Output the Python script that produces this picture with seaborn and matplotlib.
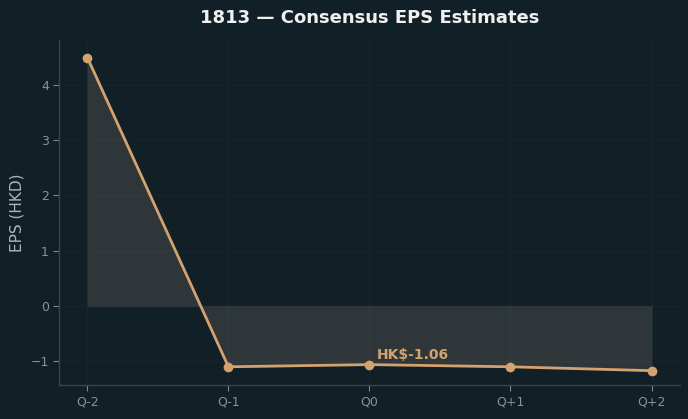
import matplotlib
matplotlib.use("Agg")
import matplotlib.pyplot as plt
import seaborn as sns
import pandas as pd

quarters = ["Q-2", "Q-1", "Q0", "Q+1", "Q+2"]
eps = [4.49, -1.10, -1.06, -1.10, -1.17]

bg = "#111f26"
line_c = "#d4a26e"
sns.set_theme(style="dark")
plt.rcParams['font.family'] = ['DejaVu Sans']

df = pd.DataFrame({"q": range(len(quarters)), "eps": eps})

fig = plt.figure(figsize=(6.88, 4.19), dpi=100, facecolor=bg)
ax = fig.add_axes([0.086, 0.081, 0.902, 0.824])
ax.set_facecolor(bg)

ax.fill_between(df["q"], 0, df["eps"], color="#8c8378", alpha=0.24, linewidth=1, edgecolor="#4a4c4a", zorder=1)
sns.lineplot(data=df, x="q", y="eps", ax=ax, color=line_c, linewidth=2,
             marker="o", markersize=7, markeredgewidth=0, zorder=3)

ax.annotate(f"HK${eps[2]:.2f}", xy=(2, eps[2]), xytext=(5, 2), textcoords="offset points",
            color=line_c, fontsize=10, fontweight="bold", ha="left", va="bottom")

ax.set_xticks(range(len(quarters)))
ax.set_xticklabels(quarters)
ax.set_xlim(-0.2, 4.2)
ax.set_ylim(-1.43, 4.81)
ax.set_yticks([-1, 0, 1, 2, 3, 4])
ax.set_yticklabels(["\u22121", "0", "1", "2", "3", "4"])
ax.set_xlabel("")
ax.set_ylabel("EPS (HKD)", color="#b0b4b6", fontsize=11)
ax.set_title("1813 \u2014 Consensus EPS Estimates", color="#f0f0f0", fontsize=13, fontweight="bold", pad=12)

ax.tick_params(axis="both", colors="#7f878b", labelcolor="#8a9296", labelsize=9, length=4, width=0.8, bottom=True, left=True)
ax.grid(True, color="#16252c", linewidth=0.8)
for s in ["top", "right"]:
    ax.spines[s].set_visible(False)
for s in ["left", "bottom"]:
    ax.spines[s].set_color("#3a4448")
    ax.spines[s].set_linewidth(1)

fig.savefig("out.png", dpi=100, facecolor=bg)
